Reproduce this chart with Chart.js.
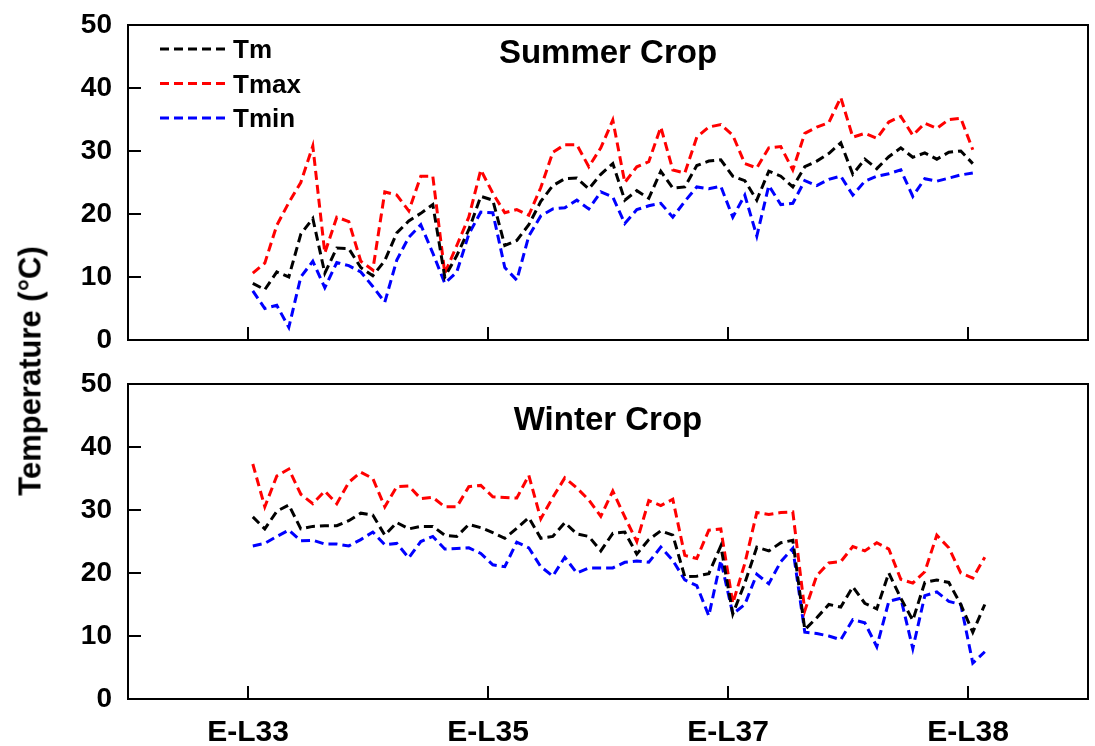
<!DOCTYPE html>
<html>
<head>
<meta charset="utf-8">
<script src="https://cdn.jsdelivr.net/npm/chart.js@4.4.0/dist/chart.umd.min.js"></script>
<style>
    body { margin: 0; background: #fff; }
    #page { position: relative; width: 1095px; height: 746px; overflow: hidden; }
    .panel { position: absolute; left: 0; width: 1095px; }
    #topPanel { top: 0; height: 360px; }
    #bottomPanel { top: 360px; height: 386px; }
    #yTitle {
        position: absolute; left: 30px; top: 371px;
        transform: translate(-50%, -50%) rotate(-90deg);
        font: bold 31px "Liberation Sans", Arial, sans-serif;
        line-height: 1; white-space: nowrap; color: #000;
    }
</style>
</head>
<body>
<div id="page">
    <div class="panel" id="topPanel"><canvas id="summerChart"></canvas></div>
    <div class="panel" id="bottomPanel"><canvas id="winterChart"></canvas></div>
    <div id="yTitle">Temperature (°C)</div>
</div>
<script>
// Series, colours, axis ticks
const seriesNames = ['Tm', 'Tmax', 'Tmin'];
const seriesColors = ['#000000', '#ff0000', '#0000ff'];
const stageTicks = [0, 1, 2, 3];
const stageLabels = ['E-L33', 'E-L35', 'E-L37', 'E-L38'];
const tempTicks = [0, 10, 20, 30, 40, 50];

// Samples along the phenological stage axis
const sampleStart = 0.02;
const sampleStep = 0.05;

// Summer crop (°C)
const summerTm = [9, 8, 10.8, 10, 16.8, 19.3, 10.6, 14.6, 14.5, 11.5, 10.2, 12.6, 17, 18.9, 20.1, 21.5, 10, 13.4, 17.5, 22.8,
    22.2, 15, 15.8, 18.3, 22, 24.5, 25.6, 25.7, 24, 26.3, 28, 22.2, 23.7, 22.5, 26.8, 24.1, 24.3, 27.7, 28.4, 28.6,
    26, 25.3, 22.2, 26.8, 26, 24.3, 27.5, 28.4, 29.6, 31.3, 26.3, 28.7, 27.2, 29.1, 30.5, 29, 29.7, 28.7, 29.8, 30, 28];
const summerTmax = [10.6, 12.2, 18.2, 21.8, 25, 30.8, 13.8, 19.5, 18.8, 12.5, 11.1, 23.5, 23, 20.5, 26, 26, 10.6, 15, 19.5, 27,
    23.3, 20.2, 20.7, 19.8, 24.2, 29.8, 31, 31, 27.5, 30.5, 34.9, 25, 27.5, 28.3, 33.8, 27, 26.5, 32.2, 33.8, 34.2,
    32.5, 28, 27.3, 30.5, 30.7, 27, 32.8, 33.8, 34.5, 38.5, 32.2, 32.8, 32, 34.6, 35.5, 32.5, 34.4, 33.6, 35, 35.2, 30.2];
const summerTmin = [7.8, 5, 5.5, 2, 10, 12.5, 8.3, 12.3, 11.8, 10.8, 8.5, 6, 12.7, 16.3, 18.3, 13.8, 9, 10.8, 16.8, 20.3,
    20.2, 11.5, 9.5, 16.5, 19.7, 20.8, 21, 22.2, 20.8, 23.5, 22.7, 18.5, 20.7, 21.3, 21.7, 19.5, 22, 24.3, 24, 24.4,
    19.5, 23, 16.5, 24.5, 21.5, 21.7, 25.3, 24.5, 25.5, 26, 23, 25.2, 26, 26.4, 27, 22.8, 25.6, 25.2, 25.7, 26.2, 26.5];

// Winter crop (°C)
const winterTm = [28.9, 27, 29.8, 30.8, 27, 27.4, 27.5, 27.5, 28.3, 29.5, 29.2, 26, 28, 27, 27.4, 27.4, 26, 25.8, 27.7, 27.2,
    26.4, 25.5, 27.1, 28.8, 25.5, 25.8, 28, 26.2, 25.8, 23.5, 26.3, 26.5, 23, 25.3, 26.7, 26, 19.4, 19.5, 19.9, 24.3,
    13.5, 18.4, 24.1, 23.5, 24.8, 25.2, 11, 12.9, 15, 14.6, 17.8, 15.2, 14.3, 20, 16, 12.5, 18.5, 18.9, 18.5, 15, 10.6, 15];
const winterTmax = [37.3, 30.5, 35.4, 36.5, 32.5, 31, 33, 31, 34.4, 36, 35, 30.5, 33.7, 33.8, 31.8, 32, 30.5, 30.5, 33.7, 33.9,
    32.1, 32, 31.9, 35.5, 28.6, 32, 35.1, 33.5, 31.6, 29, 33, 28.9, 25, 31.5, 30.7, 31.7, 22.8, 22.3, 26.8, 27,
    15.2, 21.5, 29.6, 29.3, 29.6, 29.7, 14, 19.6, 21.6, 21.8, 24.2, 23.5, 24.8, 23.8, 19, 18.4, 20.2, 26, 24, 20, 19.2, 22.5];
const winterTmin = [24.3, 24.7, 25.8, 26.8, 25.1, 25.2, 24.6, 24.6, 24.3, 25.3, 26.5, 24.5, 24.7, 22.4, 25, 25.8, 23.8, 23.9, 24, 23.1,
    21.3, 21, 24.9, 24, 21, 19.5, 22.5, 20, 20.8, 20.8, 20.8, 21.7, 21.9, 21.7, 24.1, 22, 18.9, 18, 13.2, 22,
    13.5, 15, 19.8, 18.3, 21.8, 23.9, 10.6, 10.4, 10, 9.4, 12.6, 12.1, 8.3, 15.5, 16, 8, 16.4, 17, 15.5, 15, 5.7, 7.5];

const fontFamily = '"Liberation Sans", Arial, sans-serif';

function toPoints(values) {
    return values.map((v, i) => ({ x: sampleStart + i * sampleStep, y: v }));
}

function buildDatasets(seriesList) {
    return seriesList.map((values, i) => ({
        label: seriesNames[i],
        data: toPoints(values),
        borderColor: seriesColors[i],
        backgroundColor: 'transparent',
        borderWidth: 3,
        borderDash: [9, 5],
        pointRadius: 0,
        tension: 0,
        fill: false
    }));
}

// Marco, marcas interiores, título y leyenda del panel
const panelDecor = {
    id: 'panelDecor',
    afterDatasetsDraw(chart, args, opts) {
        const { ctx, chartArea: a, scales } = chart;
        ctx.save();
        ctx.setLineDash([]);
        ctx.strokeStyle = '#000';
        ctx.lineWidth = 2;
        ctx.strokeRect(a.left, a.top, a.right - a.left, a.bottom - a.top);

        ctx.beginPath();
        tempTicks.forEach(v => {
            if (v > tempTicks[0] && v < tempTicks[tempTicks.length - 1]) {
                const y = scales.y.getPixelForValue(v);
                ctx.moveTo(a.left, y);
                ctx.lineTo(a.left + 13, y);
            }
        });
        stageTicks.forEach(v => {
            const x = scales.x.getPixelForValue(v);
            ctx.moveTo(x, a.bottom);
            ctx.lineTo(x, a.bottom - 13);
        });
        ctx.stroke();

        ctx.fillStyle = '#000';
        ctx.textBaseline = 'alphabetic';
        ctx.textAlign = 'center';
        ctx.font = 'bold 33px ' + fontFamily;
        ctx.fillText(opts.title, (a.left + a.right) / 2, a.top + opts.titleOffset);

        if (opts.legend) {
            ctx.textAlign = 'left';
            ctx.font = 'bold 26px ' + fontFamily;
            chart.data.datasets.forEach((ds, i) => {
                const y = a.top + 24 + i * 34.5;
                ctx.beginPath();
                ctx.setLineDash(ds.borderDash);
                ctx.strokeStyle = ds.borderColor;
                ctx.lineWidth = ds.borderWidth;
                ctx.moveTo(a.left + 32, y);
                ctx.lineTo(a.left + 99, y);
                ctx.stroke();
                ctx.fillText(ds.label, a.left + 105, y + 9);
            });
        }
        ctx.restore();
    }
};

function makeChart(canvasId, datasets, cfg) {
    return new Chart(document.getElementById(canvasId), {
        type: 'line',
        data: { datasets: datasets },
        plugins: [panelDecor],
        options: {
            responsive: true,
            maintainAspectRatio: false,
            animation: false,
            layout: { padding: { top: cfg.padTop, right: 7, left: 0, bottom: 0 } },
            plugins: {
                legend: { display: false },
                tooltip: { enabled: false },
                panelDecor: { title: cfg.title, titleOffset: cfg.titleOffset, legend: cfg.legend }
            },
            scales: {
                x: {
                    type: 'linear',
                    min: -0.5,
                    max: 3.5,
                    afterBuildTicks: s => { s.ticks = stageTicks.map(v => ({ value: v })); },
                    afterFit: s => { s.height = cfg.xHeight; },
                    grid: { display: false, drawTicks: false },
                    border: { display: false },
                    ticks: {
                        display: cfg.showLabels,
                        padding: 16,
                        color: '#000',
                        font: { family: fontFamily, size: 30, weight: 'bold' },
                        maxRotation: 0,
                        autoSkip: false,
                        callback: v => stageLabels[stageTicks.indexOf(v)]
                    }
                },
                y: {
                    min: 0,
                    max: 50,
                    afterBuildTicks: s => { s.ticks = tempTicks.map(v => ({ value: v })); },
                    afterFit: s => { s.width = 128; },
                    grid: { display: false, drawTicks: false },
                    border: { display: false },
                    ticks: {
                        padding: 16,
                        color: '#000',
                        font: { family: fontFamily, size: 28, weight: 'bold', lineHeight: 0.2 }
                    }
                }
            }
        }
    });
}

makeChart('summerChart', buildDatasets([summerTm, summerTmax, summerTmin]), {
    title: 'Summer Crop', titleOffset: 38, legend: true, showLabels: false, padTop: 25, xHeight: 20
});
makeChart('winterChart', buildDatasets([winterTm, winterTmax, winterTmin]), {
    title: 'Winter Crop', titleOffset: 46, legend: false, showLabels: true, padTop: 24, xHeight: 47
});
</script>
</body>
</html>
